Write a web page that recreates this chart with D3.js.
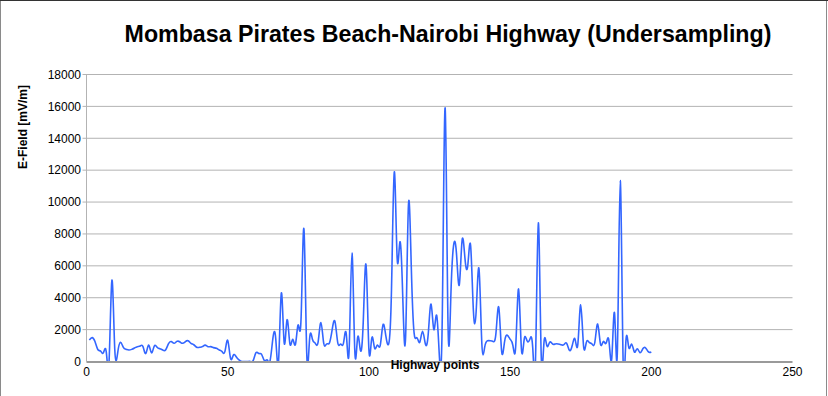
<!DOCTYPE html>
<html>
<head>
<meta charset="utf-8">
<script src="https://cdn.jsdelivr.net/npm/d3@7"></script>
<style>
  body { margin:0; background:#fff; }
  svg text { font-family: "Liberation Sans", Arial, sans-serif; }
</style>
</head>
<body>
<svg id="chart" width="828" height="396"></svg>
<script>
// E-field along the highway, one value per highway point (1..200)
var title = "Mombasa Pirates Beach-Nairobi Highway (Undersampling)";
var xLabel = "Highway points", yLabel = "E-Field [mV/m]";
var xTicks = [0, 50, 100, 150, 200, 250];
var yTicks = [0, 2000, 4000, 6000, 8000, 10000, 12000, 14000, 16000, 18000];
var efield = [
	1350, 1500, 1250, 750, 650, 550, 600, 50, 5100, 800,
	500, 1200, 900, 760, 720, 760, 850, 930, 970, 930,
	500, 1030, 550, 970, 890, 800, 720, 720, 1100, 1250,
	1140, 1260, 1240, 1140, 1240, 1300, 1140, 1050, 890, 890,
	930, 1030, 930, 930, 870, 830, 720, 620, 620, 1330,
	200, 400, 300, 100, 0, 0, 0, 0, 50, 550,
	500, 450, 50, 100, 50, 1450, 1450, 0, 4300, 1180,
	2600, 1140, 1390, 1080, 2300, 2800, 8300, 450, 1400, 1400,
	1150, 1200, 2450, 1150, 1100, 1150, 2000, 2500, 1150, 1100,
	1150, 1700, 700, 6800, 700, 1500, 700, 2500, 6050, 750,
	1450, 850, 1030, 1000, 2300, 1600, 1100, 4500, 11900, 6500,
	7500, 4000, 1550, 9800, 6000, 1800, 1500, 1200, 1900, 1100,
	1700, 3600, 2000, 2900, 200, 3000, 15900, 2500, 4000, 7300,
	6800, 4800, 7600, 6500, 6000, 7300, 3200, 3200, 5800, 1100,
	900, 1300, 1300, 1250, 1800, 3400, 650, 1200, 1650, 1400,
	1000, 1000, 4550, 800, 1400, 1300, 1400, 900, 150, 8700,
	500, 1200, 1000, 1200, 1100, 1100, 1100, 1050, 1050, 1150,
	700, 1000, 1400, 1100, 3550, 1000, 1200, 1200, 1100, 1200,
	2350, 1100, 1250, 1150, 1300, 200, 3000, 700, 11350, 200,
	1250, 900, 1100, 600, 800, 550, 800, 850, 600, 600
];

!function(){
	var W = 828, H = 396;
	var pLeft = 86.5, pRight = 792.5, pTop = 74.5, pBottom = 361.5;

	var svg = d3.select("#chart");

	// frame round the whole chart
	svg.append("rect").attr("x", 0.5).attr("y", 0.5).attr("width", W - 2).attr("height", H + 5)
		.attr("fill", "none").attr("stroke", "#8a8a8a");
	svg.append("line").attr("x1", 0).attr("x2", W).attr("y1", 0.5).attr("y2", 0.5)
		.attr("stroke", "#333");

	var x = d3.scaleLinear().domain([0, 250]).range([pLeft, pRight]);
	var y = d3.scaleLinear().domain([0, 18000]).range([pBottom, pTop]);

	// grid lines (stick out a little on the left, like ticks)
	svg.append("g").selectAll("line").data(yTicks.slice(1)).enter().append("line")
		.attr("x1", pLeft - 4).attr("x2", pRight)
		.attr("y1", function(d){ return y(d); }).attr("y2", function(d){ return y(d); })
		.attr("stroke", "#b3b3b3").attr("stroke-width", 1);

	svg.append("g").selectAll("text").data(yTicks).enter().append("text")
		.attr("x", pLeft - 5.5).attr("y", function(d){ return y(d); }).attr("dy", "0.36em")
		.attr("text-anchor", "end").attr("font-size", 12).attr("fill", "#000")
		.text(function(d){ return d; });

	svg.append("g").selectAll("text").data(xTicks).enter().append("text")
		.attr("x", function(d){ return x(d); }).attr("y", 376)
		.attr("text-anchor", "middle").attr("font-size", 12).attr("fill", "#000")
		.text(function(d){ return d; });

	svg.append("line").attr("x1", pLeft).attr("x2", pLeft).attr("y1", pTop).attr("y2", pBottom)
		.attr("stroke", "#b3b3b3").attr("stroke-width", 1);

	svg.append("clipPath").attr("id", "plotclip").append("rect")
		.attr("x", pLeft).attr("y", pTop - 5).attr("width", pRight - pLeft).attr("height", pBottom - pTop + 5);

	var line = d3.line()
		.x(function(d, i){ return x(i + 1); })
		.y(function(d){ return y(d); })
		.curve(d3.curveNatural);

	svg.append("path").datum(efield)
		.attr("clip-path", "url(#plotclip)")
		.attr("d", line)
		.attr("fill", "none").attr("stroke", "#3366ff").attr("stroke-width", 1.6)
		.attr("stroke-linejoin", "round");

	svg.append("line").attr("x1", pLeft).attr("x2", pRight).attr("y1", pBottom + 0.5).attr("y2", pBottom + 0.5)
		.attr("stroke", "#9a9a9a").attr("stroke-width", 2);

	// titles
	svg.append("text").attr("x", 448).attr("y", 41.5).attr("text-anchor", "middle")
		.attr("font-size", 23.2).attr("font-weight", "bold").attr("fill", "#000").text(title);

	svg.append("text").attr("x", 435).attr("y", 368.5).attr("text-anchor", "middle")
		.attr("font-size", 12).attr("font-weight", "bold").attr("fill", "#000").text(xLabel);

	svg.append("text").attr("transform", "translate(26.5,127)rotate(-90)").attr("text-anchor", "middle")
		.attr("font-size", 12).attr("font-weight", "bold").attr("fill", "#000").text(yLabel);
}();
</script>
</body>
</html>
